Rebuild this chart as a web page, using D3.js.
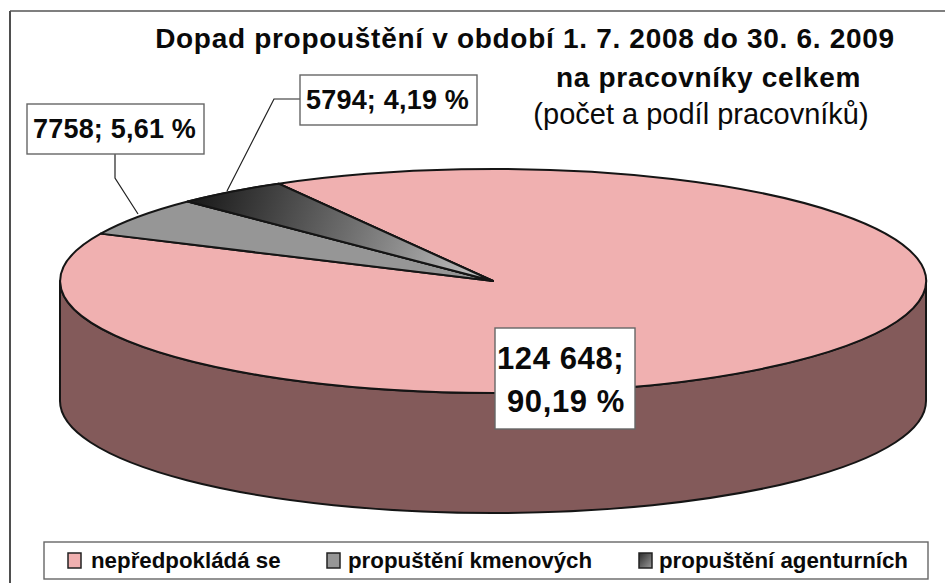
<!DOCTYPE html>
<html lang="cs"><head><meta charset="utf-8">
<script src="https://cdn.jsdelivr.net/npm/d3@7/dist/d3.min.js"></script>
<style>html,body{margin:0;padding:0;background:#fff}svg{display:block}text{font-family:"Liberation Sans",Arial,sans-serif;fill:#0a0a0a}</style>
</head><body><svg id="c" width="945" height="583"></svg>
<script>
const categories = ["nepředpokládá se", "propuštění kmenových", "propuštění agenturních"];
const values = [124648, 7758, 5794];
const valueLabels = ["124 648;", "7758;", "5794;"];
const percentLabels = ["90,19 %", "5,61 %", "4,19 %"];
const titleLines = ["Dopad propouštění v období 1. 7. 2008 do 30. 6. 2009", "na pracovníky celkem"];
const subtitle = "(počet a podíl pracovníků)";

const svg = d3.select("#c");
const cx = 493, cy = 281, rx = 433, ry = 112, depth = 120, ink = "#151515";
const defs = svg.append("defs");
const grad = defs.append("linearGradient").attr("id","gDark").attr("gradientUnits","userSpaceOnUse")
  .attr("x1",205).attr("y1",180).attr("x2",493).attr("y2",281);
[[0,"#1c1c1c"],[.2,"#3c3c3c"],[.5,"#6e6e6e"],[1,"#c8c8c8"]].forEach(s=>grad.append("stop").attr("offset",s[0]).attr("stop-color",s[1]));
const grad2 = defs.append("linearGradient").attr("id","gLeg").attr("x1",0).attr("y1",0).attr("x2",1).attr("y2",1);
[[0,"#2a2a2a"],[1,"#9a9a9a"]].forEach(s=>grad2.append("stop").attr("offset",s[0]).attr("stop-color",s[1]));
const fills = ["#f0b0b0","#969696","url(#gDark)"];
const legendFills = ["#f0b0b0","#969696","url(#gLeg)"];

// frame (open on right and bottom, as cropped)
svg.append("path").attr("d","M10,583V11").attr("stroke","#222").attr("stroke-width",1.6);
svg.append("path").attr("d","M10,11H945").attr("stroke","#555").attr("stroke-width",1.6);

// pie layout
const start = -29.7*Math.PI/180;
const pie = d3.pie().sort(null).startAngle(start).endAngle(start+2*Math.PI);
const arcs = pie(values);
const arcGen = d3.arc().innerRadius(0).outerRadius(1);

// x / y scales map the unit pie onto the tilted ellipse
const sx = d3.scaleLinear().domain([-1,1]).range([cx-rx,cx+rx]);
const sy = d3.scaleLinear().domain([-1,1]).range([cy-ry,cy+ry]);

// side wall
svg.append("path")
  .attr("d",`M${sx(-1)},${sy(0)}A${rx},${ry} 0 0 0 ${sx(1)},${sy(0)}V${sy(0)+depth}A${rx},${ry} 0 0 1 ${sx(-1)},${sy(0)+depth}Z`)
  .attr("fill","#835a5a").attr("stroke",ink).attr("stroke-width",2).attr("stroke-linejoin","round");

// top slices
svg.append("g").attr("transform",`translate(${sx(0)},${sy(0)}) scale(${rx},${ry})`)
  .selectAll("path").data(arcs).join("path")
  .attr("d",arcGen)
  .attr("fill",(d,i)=>i==2?"#7a7a7a":fills[i])
  .attr("stroke",ink).attr("stroke-width",2).attr("vector-effect","non-scaling-stroke").attr("stroke-linejoin","round");
// gradient overlay for dark slice, in page coordinates
const darkPts = d3.range(0,9).map(k=>{
  const a = arcs[2].startAngle+(arcs[2].endAngle-arcs[2].startAngle)*k/8;
  return [sx(Math.sin(a)),sy(-Math.cos(a))];
});
svg.append("path").attr("d",d3.line()([[sx(0),sy(0)],...darkPts])+"Z")
  .attr("fill",fills[2]).attr("stroke",ink).attr("stroke-width",2).attr("stroke-linejoin","round");

// leaders
svg.append("path").attr("d","M115,154V178L138,214").attr("fill","none").attr("stroke","#222").attr("stroke-width",1.2);
svg.append("path").attr("d","M300,99H274L227,191").attr("fill","none").attr("stroke","#222").attr("stroke-width",1.2);

// label boxes
const boxes = [
  {x:495,y:328,w:140,h:101},
  {x:27,y:104,w:177,h:50},
  {x:300,y:75,w:177,h:50}
];
boxes.forEach(b=>{
  svg.append("rect").attr("x",b.x).attr("y",b.y).attr("width",b.w).attr("height",b.h)
    .attr("fill","#fff").attr("stroke","#666").attr("stroke-width",1.4);
});
const lab = (x,y,t,size)=>svg.append("text").attr("x",x).attr("y",y).attr("xml:space","preserve")
  .attr("font-size",size).attr("font-weight","bold").attr("letter-spacing",size>30?"0.6":"0.2").text(t);
lab(497,369,valueLabels[0],31);
lab(507,412,percentLabels[0],31);
lab(33,138,valueLabels[1]+" "+percentLabels[1],27);
lab(306,109,valueLabels[2]+" "+percentLabels[2],27);

// title
svg.append("text").attr("x",525).attr("y",48).attr("text-anchor","middle")
  .attr("font-size",28).attr("font-weight","bold").attr("letter-spacing","0.7").text(titleLines[0]);
svg.append("text").attr("x",708.5).attr("y",87).attr("text-anchor","middle")
  .attr("font-size",28).attr("font-weight","bold").attr("letter-spacing","0.7").text(titleLines[1]);
svg.append("text").attr("x",701).attr("y",124).attr("text-anchor","middle")
  .attr("font-size",29).text(subtitle);

// legend
svg.append("rect").attr("x",44).attr("y",542).attr("width",884).attr("height",37)
  .attr("fill","#fff").attr("stroke","#666").attr("stroke-width",1.4);
const legendX = [68,327,639];
categories.forEach((c,i)=>{
  svg.append("rect").attr("x",legendX[i]).attr("y",553).attr("width",13).attr("height",15)
    .attr("fill",legendFills[i]).attr("stroke","#222").attr("stroke-width",1.5);
  svg.append("text").attr("x",legendX[i]+[23,21,20][i]).attr("y",568).attr("font-size",22.3).attr("font-weight","bold").text(c);
});
</script></body></html>
